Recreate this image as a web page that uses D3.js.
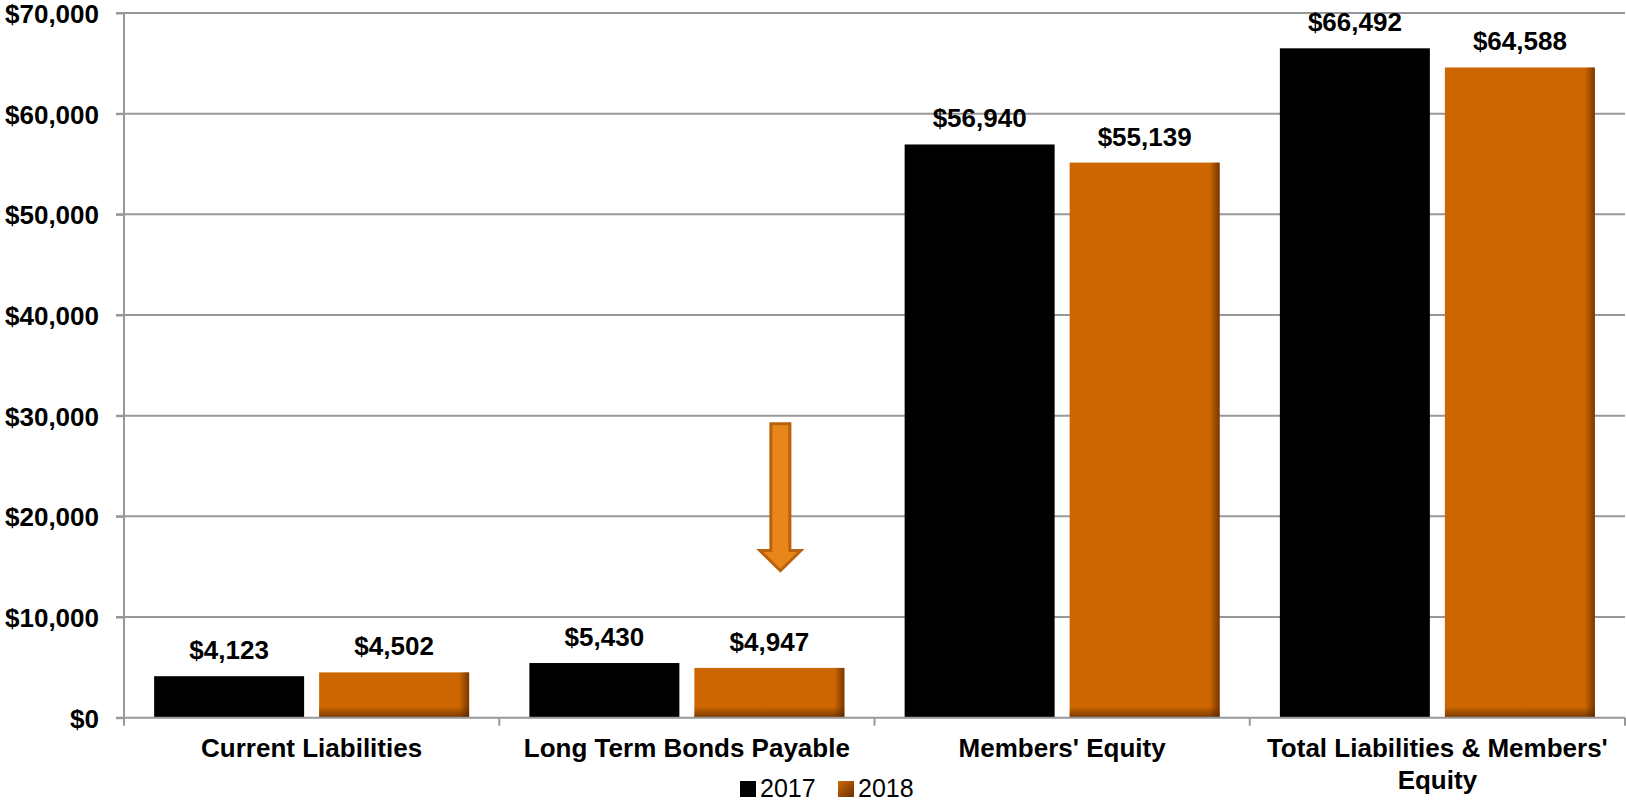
<!DOCTYPE html>
<html>
<head>
<meta charset="utf-8">
<script src="https://cdn.jsdelivr.net/npm/d3@7/dist/d3.min.js"></script>
<style>
  html, body { margin: 0; padding: 0; background: #fff; }
  svg { display: block; font-family: "Liberation Sans", Arial, sans-serif; }
</style>
</head>
<body>
<svg id="chart" width="1626" height="802"></svg>
<script>
// Balance sheet summary (in thousands)
const categories = [
  "Current Liabilities",
  "Long Term Bonds Payable",
  "Members' Equity",
  "Total Liabilities & Members' Equity"
];
const categoryLines = [
  ["Current Liabilities"],
  ["Long Term Bonds Payable"],
  ["Members' Equity"],
  ["Total Liabilities & Members'", "Equity"]
];
const seriesNames = ["2017", "2018"];
const values2017 = [4123, 5430, 56940, 66492];
const values2018 = [4502, 4947, 55139, 64588];
const yTicks = [0, 10000, 20000, 30000, 40000, 50000, 60000, 70000];

// Down arrow annotation beside the 2018 bonds bar (value units)
const arrowTop = 29200, arrowShaftEnd = 16600, arrowTip = 14600;

const svg = d3.select("#chart");
const plot = { left: 124, right: 1625, top: 13, bottom: 717.7 };

const x0 = d3.scaleBand().domain(categories).range([plot.left, plot.right]).padding(0);
const x1 = d3.scaleBand().domain(seriesNames)
  .range([0, x0.bandwidth()])
  .paddingInner(15 / 165)
  .paddingOuter(0.1826);
const y = d3.scaleLinear().domain([0, 70000]).range([plot.bottom, plot.top]);

const fmt = d3.format(",");
const colors = { "2017": "#000000", "2018": "#CC6600" };

// Gradients for bar edge shading and legend swatch
const defs = svg.append("defs");
const gRight = defs.append("linearGradient").attr("id", "shadeRight")
  .attr("x1", "0").attr("x2", "1").attr("y1", "0").attr("y2", "0");
gRight.append("stop").attr("offset", "0%").attr("stop-color", "#4a1e00").attr("stop-opacity", 0);
gRight.append("stop").attr("offset", "100%").attr("stop-color", "#4a1e00").attr("stop-opacity", 0.65);
const gBottom = defs.append("linearGradient").attr("id", "shadeBottom")
  .attr("x1", "0").attr("x2", "0").attr("y1", "0").attr("y2", "1");
gBottom.append("stop").attr("offset", "0%").attr("stop-color", "#4a1e00").attr("stop-opacity", 0);
gBottom.append("stop").attr("offset", "100%").attr("stop-color", "#4a1e00").attr("stop-opacity", 0.65);
const gLegend = defs.append("linearGradient").attr("id", "legendOrange")
  .attr("x1", "0").attr("x2", "1").attr("y1", "0").attr("y2", "1");
gLegend.append("stop").attr("offset", "0%").attr("stop-color", "#D06A08");
gLegend.append("stop").attr("offset", "100%").attr("stop-color", "#6A2F00");

// Gridlines
svg.append("g").selectAll("line").data(yTicks.filter(d => d > 0)).join("line")
  .attr("x1", plot.left - 8).attr("x2", plot.right)
  .attr("y1", d => y(d)).attr("y2", d => y(d))
  .attr("stroke", "#989898").attr("stroke-width", 2);

// Y axis
const yAxis = d3.axisLeft(y).tickValues(yTicks).tickSize(8)
  .tickFormat(d => "$" + fmt(d));
const gy = svg.append("g").attr("transform", `translate(${plot.left},0)`).call(yAxis);
gy.select(".domain").attr("stroke", "#989898").attr("stroke-width", 2)
  .attr("d", `M0,${plot.top}V${plot.bottom}`);
gy.selectAll(".tick line").attr("stroke", "#989898").attr("stroke-width", 2);
gy.selectAll(".tick text")
  .attr("x", -25)
  .attr("dy", "0.36em")
  .attr("font-family", "Liberation Sans, Arial, sans-serif")
  .attr("font-size", 26).attr("font-weight", "bold").attr("fill", "#000");

// Bars
const data = categories.map((c, i) => ({
  cat: c,
  vals: [{ s: "2017", v: values2017[i] }, { s: "2018", v: values2018[i] }]
}));
const groups = svg.append("g").selectAll("g").data(data).join("g")
  .attr("transform", d => `translate(${x0(d.cat)},0)`);

groups.each(function (d) {
  const g = d3.select(this);
  d.vals.forEach(p => {
    const bx = x1(p.s), bw = x1.bandwidth();
    const by = y(p.v), bh = y(0) - y(p.v);
    g.append("rect").attr("x", bx).attr("y", by).attr("width", bw).attr("height", bh)
      .attr("fill", colors[p.s]);
    if (p.s === "2018") {
      g.append("rect").attr("x", bx + bw - 10).attr("y", by).attr("width", 10).attr("height", bh)
        .attr("fill", "url(#shadeRight)");
      g.append("rect").attr("x", bx).attr("y", y(0) - 11).attr("width", bw).attr("height", 11)
        .attr("fill", "url(#shadeBottom)");
    }
    g.append("text")
      .attr("x", bx + bw / 2).attr("y", by - 17)
      .attr("text-anchor", "middle")
      .attr("font-size", 26).attr("font-weight", "bold").attr("fill", "#000")
      .text("$" + fmt(p.v));
  });
});

// X axis baseline and category ticks
svg.append("line").attr("x1", plot.left - 8).attr("x2", plot.right)
  .attr("y1", plot.bottom).attr("y2", plot.bottom)
  .attr("stroke", "#989898").attr("stroke-width", 2);
const tickXs = categories.map(c => x0(c)).concat([x0(categories[categories.length - 1]) + x0.bandwidth()]);
svg.append("g").selectAll("line").data(tickXs).join("line")
  .attr("x1", d => d).attr("x2", d => d)
  .attr("y1", plot.bottom).attr("y2", plot.bottom + 8)
  .attr("stroke", "#989898").attr("stroke-width", 2);

// Category labels
svg.append("g").selectAll("text").data(categories).join("text")
  .attr("text-anchor", "middle")
  .attr("font-size", 26).attr("font-weight", "bold").attr("fill", "#000")
  .each(function (c, i) {
    const t = d3.select(this);
    categoryLines[i].forEach((ln, k) => {
      t.append("tspan")
        .attr("x", x0(c) + x0.bandwidth() / 2)
        .attr("y", 757 + k * 32)
        .text(ln);
    });
  });

// Down arrow annotation
const bondsCat = categories[1];
const ax = x0(bondsCat) + x1("2018") + x1.bandwidth() / 2 + 11;
const shaftHalf = 9.5, headHalf = 20.5;
const arrowPts = [
  [ax - shaftHalf, y(arrowTop)], [ax + shaftHalf, y(arrowTop)],
  [ax + shaftHalf, y(arrowShaftEnd)], [ax + headHalf, y(arrowShaftEnd)],
  [ax, y(arrowTip)],
  [ax - headHalf, y(arrowShaftEnd)], [ax - shaftHalf, y(arrowShaftEnd)]
];
svg.append("polygon")
  .attr("points", arrowPts.map(p => p.join(",")).join(" "))
  .attr("fill", "#E8861A").attr("stroke", "#B8620E").attr("stroke-width", 3)
  .attr("stroke-linejoin", "miter");

// Legend
const legend = svg.append("g");
const legendItems = [
  { s: "2017", fill: "#000", x: 740 },
  { s: "2018", fill: "url(#legendOrange)", x: 838 }
];
legendItems.forEach(it => {
  legend.append("rect").attr("x", it.x).attr("y", 781).attr("width", 16).attr("height", 16)
    .attr("fill", it.fill);
  legend.append("text").attr("x", it.x + 20).attr("y", 797)
    .attr("font-size", 25).attr("fill", "#000").text(it.s);
});
</script>
</body>
</html>
